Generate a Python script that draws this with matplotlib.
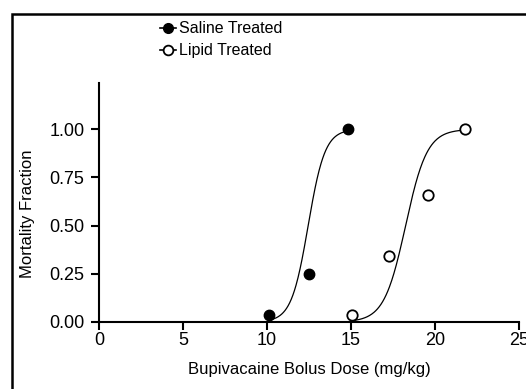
import numpy as np
import matplotlib.pyplot as plt
from matplotlib.patches import Rectangle

plt.rcParams['font.family'] = ['Liberation Sans', 'DejaVu Sans']

# observed mortality fractions
saline_dose = [10.1, 12.5, 14.8]
saline_mort = [0.035, 0.25, 1.0]
lipid_dose = [15.05, 17.25, 19.6, 21.8]
lipid_mort = [0.035, 0.345, 0.66, 1.0]

# fitted dose-response curves (midpoint, slope scale)
saline_fit = (12.45, 0.50)
lipid_fit = (18.25, 0.64)

xticks = [0, 5, 10, 15, 20, 25]
yticks = [0.0, 0.25, 0.5, 0.75, 1.0]


def logistic(x, mid, s):
    return 1.0 / (1.0 + np.exp(-(x - mid) / s))


fig = plt.figure(figsize=(5.26, 3.89), dpi=100)
ax = fig.add_axes([99 / 526, 67 / 389, 420 / 526, 239 / 389])

xs = np.linspace(min(saline_dose), max(saline_dose), 200)
ax.plot(xs, logistic(xs, *saline_fit), color='black', lw=0.9, zorder=2)
xl = np.linspace(min(lipid_dose), max(lipid_dose), 200)
ax.plot(xl, logistic(xl, *lipid_fit), color='black', lw=0.9, zorder=2)

ax.plot(saline_dose, saline_mort, 'o', color='black', ms=7.5,
        clip_on=False, zorder=3)
ax.plot(lipid_dose, lipid_mort, 'o', mfc='white', mec='black', mew=1.3,
        ms=7.5, clip_on=False, zorder=3)

# legend handles
h1, = ax.plot([], [], '-o', color='black', ms=7, lw=1.2)
h2, = ax.plot([], [], '-o', color='black', mfc='white', mew=1.3, ms=7, lw=1.2)
fig.legend([h1, h2], ['Saline Treated', 'Lipid Treated'],
           loc='upper left', bbox_to_anchor=(149 / 526, 1 - 10 / 389),
           frameon=False, fontsize=11.5, handlelength=1.0,
           handletextpad=0.15, labelspacing=0.45, borderpad=0.2)

ax.set_xlim(0, 25)
ax.set_ylim(0, 1.24)
ax.set_xticks(xticks)
ax.set_xticklabels([str(t) for t in xticks])
ax.set_yticks(yticks)
ax.set_yticklabels(['%.2f' % t for t in yticks])
for s in ['top', 'right']:
    ax.spines[s].set_visible(False)
for s in ['left', 'bottom']:
    ax.spines[s].set_linewidth(1.5)
ax.tick_params(direction='out', length=5.5, width=1.5, labelsize=13)
ax.tick_params(axis='x', pad=2)
ax.tick_params(axis='y', pad=5)

ax.set_xlabel('Bupivacaine Bolus Dose (mg/kg)', fontsize=12, labelpad=9)
ax.set_ylabel('Mortality Fraction', fontsize=12)
ax.yaxis.set_label_coords(-0.152, 0.455)

# outer frame of the figure panel
fig.patches.append(Rectangle((12 / 526, -0.1), 1.2, 1 - 14 / 389 + 0.1,
                             transform=fig.transFigure, fill=False,
                             edgecolor='black', lw=1.8))

plt.savefig('out.png', dpi=100)
